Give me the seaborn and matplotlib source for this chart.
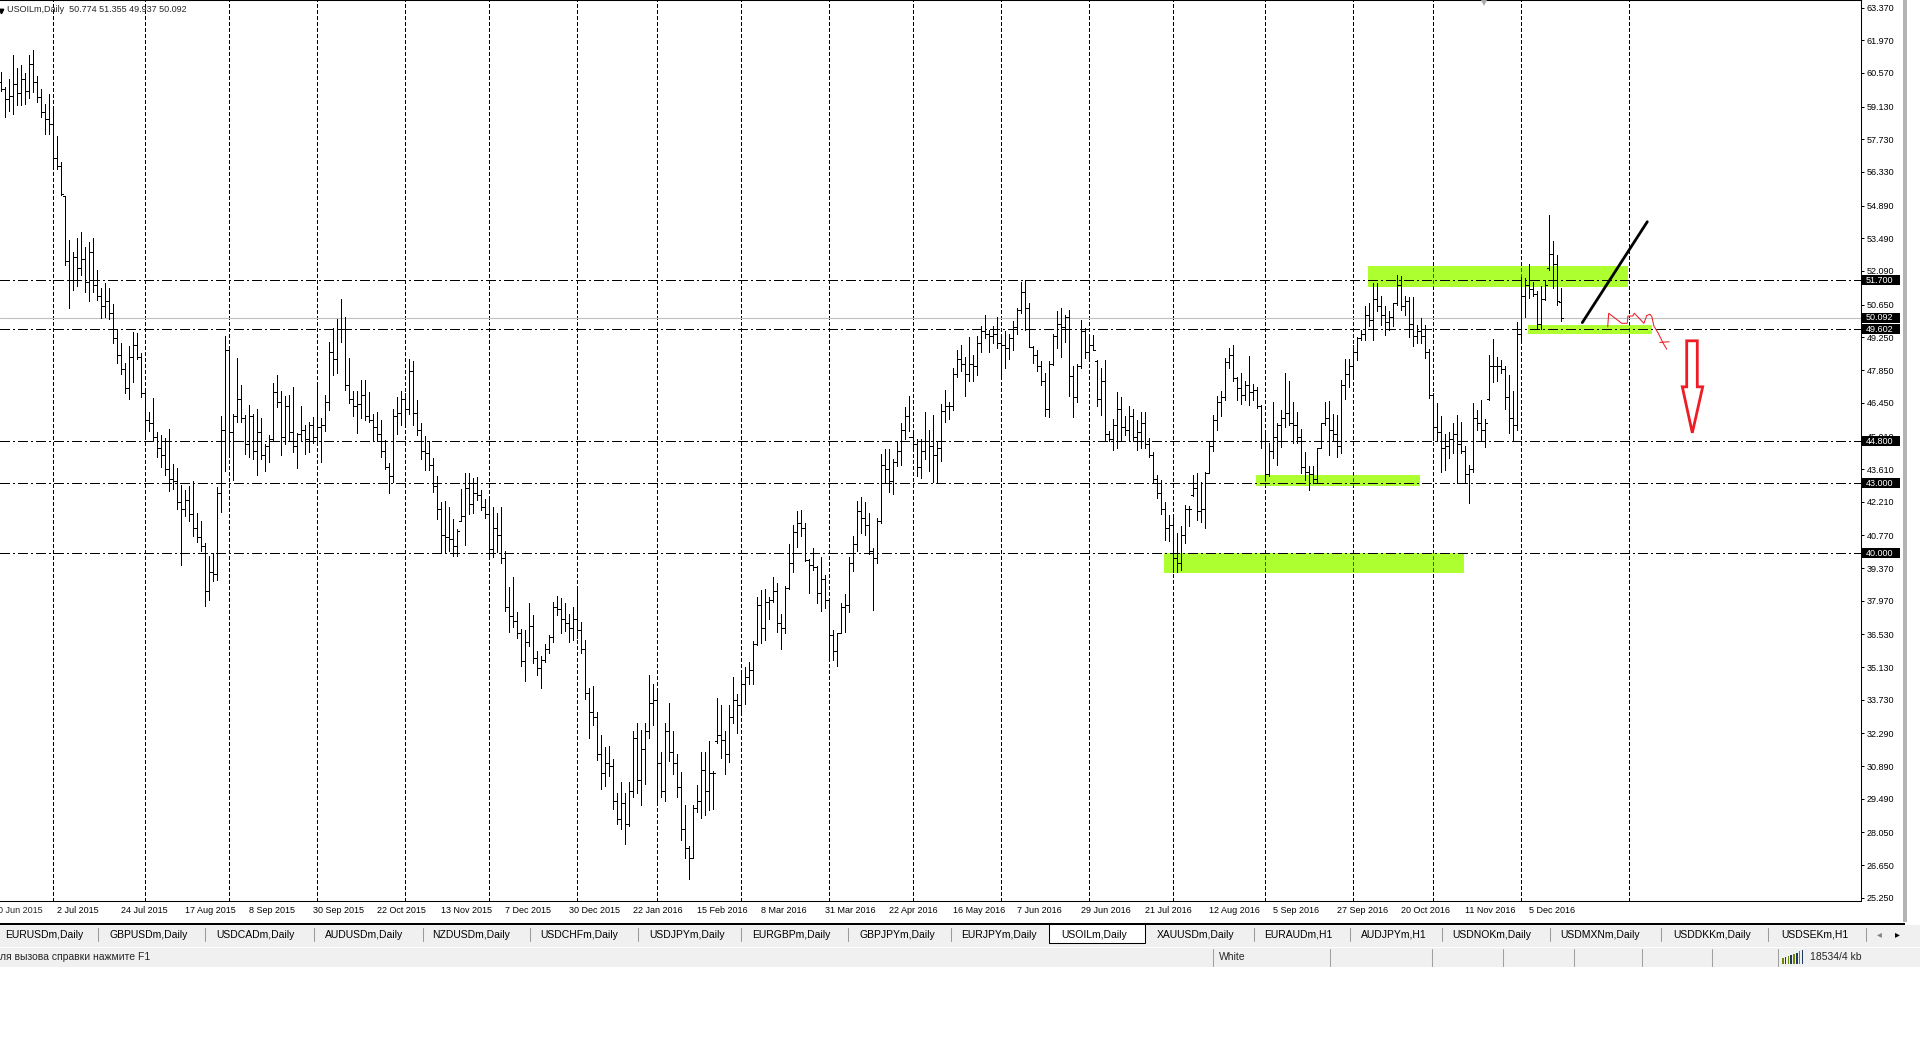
import numpy as np
import pandas as pd
import matplotlib
matplotlib.use("Agg")
import matplotlib.pyplot as plt
import matplotlib.transforms as mtransforms
from matplotlib.patches import Rectangle, Polygon
from matplotlib.lines import Line2D
import seaborn as sns

# ------------------------------------------------------------------ data
chart_title = "USOILm,Daily  50.774 51.355 49.937 50.092"
calendar_start = "2015-06-10"
calendar_end = "2016-12-15"
closed_days = ["2015-12-25", "2016-01-01", "2016-03-25", "2016-10-10"]
label_anchor = "2016-12-05"
next_month_start = "2017-01-01"

opens = [
    60.20, 59.90, 59.45, 59.60, 60.10, 59.70, 60.30, 59.80, 60.95, 60.20,
    59.55, 58.90, 58.60, 58.40, 56.95, 56.60, 55.30, 52.50, 51.70, 52.70,
    52.20, 52.60, 51.60, 52.90, 51.50, 51.00, 50.60, 50.80, 50.30, 49.20,
    48.50, 47.90, 47.10, 48.40, 48.90, 48.40, 46.85, 45.70, 45.60, 45.00,
    44.50, 44.20, 43.60, 43.20, 43.10, 42.20, 41.90, 42.30, 41.70, 41.10,
    40.70, 40.30, 38.40, 39.20, 39.10, 42.60, 45.30, 48.70, 45.20, 45.90,
    46.60, 45.80, 44.70, 45.90, 44.40, 45.20, 44.20, 44.60, 44.90, 46.90,
    46.50, 45.00, 46.30, 45.20, 44.60, 45.10, 45.30, 44.90, 45.50, 45.00,
    45.40, 45.50, 46.50, 48.60, 48.30, 49.60, 49.60, 47.20, 46.60, 46.30,
    46.40, 46.80, 45.90, 45.70, 45.40, 45.10, 44.40, 43.70, 43.30, 45.90,
    46.00, 46.60, 46.20, 47.80, 46.00, 45.30, 44.40, 44.30, 43.80, 42.90,
    41.90, 40.80, 40.70, 40.60, 40.30, 41.40, 41.60, 42.80, 42.10, 42.60,
    42.50, 42.00, 41.70, 40.20, 41.10, 40.80, 39.80, 37.70, 37.30, 37.10,
    36.60, 35.40, 36.20, 36.90, 35.50, 35.10, 35.45, 35.90, 36.40, 37.70,
    37.60, 37.20, 37.00, 36.80, 37.20, 36.70, 35.90, 34.00, 33.20, 33.00,
    31.40, 30.60, 31.00, 30.90, 29.40, 28.60, 29.30, 28.40, 29.80, 32.10,
    30.30, 31.60, 32.40, 33.60, 33.70, 31.00, 29.80, 32.40, 31.50, 31.00,
    30.00, 28.20, 27.40, 26.95, 29.10, 29.40, 30.70, 29.80, 30.60, 31.95,
    32.20, 32.00, 31.40, 33.00, 33.70, 33.50, 34.40, 34.70, 35.00, 36.10,
    37.80, 36.80, 37.90, 38.00, 38.40, 37.00, 36.80, 38.50, 39.60, 40.90,
    41.30, 41.10, 39.72, 39.50, 39.40, 38.30, 38.90, 38.00, 36.50, 35.80,
    36.59, 37.70, 37.80, 39.60, 40.40, 41.80, 41.50, 41.20, 40.10, 39.80,
    41.40, 43.80, 43.60, 43.10, 43.90, 44.40, 45.30, 45.90, 45.00, 44.70,
    43.70, 44.40, 44.80, 44.60, 44.20, 44.50, 46.10, 46.30, 46.30, 47.70,
    48.30, 48.10, 47.70, 48.10, 48.00, 49.00, 49.50, 49.40, 49.30, 49.40,
    49.00, 48.90, 48.80, 49.20, 49.70, 50.40, 51.20, 50.50, 48.85, 48.50,
    48.00, 47.40, 46.20, 48.10, 49.30, 49.80, 49.70, 50.10, 47.60, 46.70,
    48.00, 49.50, 48.60, 48.90, 48.25, 46.60, 47.40, 45.10, 44.90, 45.50,
    46.20, 45.40, 45.30, 45.90, 45.00, 45.20, 45.60, 44.70, 44.20, 43.20,
    42.60, 41.90, 41.10, 41.20, 39.80, 39.60, 40.80, 41.90, 42.50, 42.80,
    41.80, 41.90, 43.45, 44.60, 45.70, 46.50, 46.70, 48.20, 48.50, 47.50,
    47.10, 46.80, 47.20, 46.90, 47.00, 46.30, 44.80, 43.40, 44.40, 45.00,
    45.50, 45.80, 46.00, 45.60, 45.50, 45.00, 43.70, 43.50, 43.40, 43.20,
    44.50, 45.60, 45.80, 45.30, 45.10, 44.60, 47.20, 47.70, 48.00, 48.60,
    49.20, 49.40, 50.20, 50.00, 50.90, 50.60, 50.20, 49.90, 50.10, 50.70,
    51.50, 50.60, 50.80, 49.80, 49.30, 49.50, 49.30, 48.60, 46.80, 45.40,
    45.20, 44.50, 44.60, 44.90, 45.10, 44.70, 44.40, 43.40, 43.60, 45.80,
    45.60, 45.30, 46.60, 48.00, 48.00, 48.00, 47.90, 46.70, 45.80, 45.50,
    49.40, 51.00, 51.50, 51.30, 51.10, 49.80, 50.90, 52.20, 52.80, 52.40,
    50.774,
]

highs = [
    60.60, 59.98, 60.30, 61.32, 60.79, 60.90, 60.58, 61.35, 61.55, 60.42,
    59.90, 59.23, 59.66, 59.02, 57.89, 56.76, 55.31, 53.41, 52.92, 53.49,
    53.78, 53.13, 53.33, 53.49, 52.12, 51.36, 51.57, 51.36, 50.67, 49.59,
    49.02, 48.17, 48.86, 49.46, 49.43, 48.57, 46.93, 46.04, 46.64, 45.19,
    45.08, 44.95, 45.32, 43.82, 43.66, 42.93, 42.69, 42.87, 43.09, 41.72,
    41.37, 40.43, 39.89, 40.00, 42.85, 45.88, 49.30, 48.81, 45.96, 48.38,
    47.22, 45.91, 46.37, 45.96, 46.20, 45.80, 44.67, 45.08, 47.28, 47.65,
    46.96, 46.72, 46.77, 47.12, 45.16, 46.32, 45.48, 45.64, 45.83, 47.17,
    45.80, 46.80, 49.06, 49.67, 50.02, 50.88, 50.10, 48.38, 46.93, 46.96,
    47.41, 47.44, 46.90, 45.96, 46.07, 45.72, 44.87, 43.87, 46.20, 46.69,
    46.96, 46.85, 48.30, 48.22, 46.56, 45.59, 45.03, 44.79, 44.06, 43.30,
    42.21, 42.26, 41.97, 41.48, 41.03, 42.74, 43.42, 43.42, 43.22, 43.27,
    42.72, 42.34, 42.34, 41.97, 41.72, 42.00, 40.10, 38.55, 38.97, 37.50,
    36.77, 36.72, 37.89, 37.35, 35.80, 35.59, 36.10, 36.52, 37.92, 38.19,
    38.09, 37.89, 37.39, 37.72, 38.47, 37.05, 36.30, 34.25, 34.30, 33.22,
    32.22, 31.72, 31.75, 31.17, 29.72, 30.19, 29.72, 30.22, 32.39, 32.75,
    32.42, 32.72, 34.80, 34.39, 34.14, 31.47, 32.75, 33.59, 32.39, 31.39,
    30.64, 29.22, 27.47, 29.22, 30.09, 31.50, 31.47, 31.97, 30.69, 33.80,
    33.50, 32.39, 33.50, 34.69, 33.97, 34.89, 35.14, 35.34, 36.25, 38.14,
    38.42, 38.47, 38.14, 38.97, 38.72, 37.39, 38.60, 40.39, 41.22, 41.80,
    41.85, 41.30, 39.75, 40.22, 39.47, 39.85, 39.05, 38.09, 36.72, 36.59,
    37.89, 38.25, 39.85, 40.75, 42.22, 42.42, 42.19, 41.72, 40.22, 41.52,
    44.25, 44.47, 44.47, 44.05, 44.80, 45.59, 46.25, 46.75, 45.30, 44.89,
    44.89, 46.05, 45.30, 45.92, 44.80, 46.39, 47.00, 46.47, 47.92, 48.72,
    48.92, 48.40, 49.26, 48.50, 49.29, 49.74, 50.22, 49.57, 49.72, 50.12,
    49.29, 49.50, 49.40, 49.93, 50.50, 51.64, 51.69, 50.74, 48.89, 48.71,
    48.22, 47.72, 48.22, 49.40, 50.36, 50.50, 50.22, 50.43, 48.00, 48.12,
    50.00, 49.64, 49.26, 49.36, 48.29, 47.93, 48.29, 45.22, 45.74, 46.89,
    46.69, 45.86, 46.32, 46.17, 45.72, 46.07, 46.07, 44.93, 44.32, 43.36,
    43.14, 42.19, 41.64, 41.57, 40.86, 41.17, 42.07, 42.03, 43.36, 43.43,
    43.07, 43.50, 44.79, 45.93, 46.72, 46.97, 48.36, 48.79, 48.93, 47.57,
    47.72, 47.40, 48.43, 47.26, 47.14, 46.36, 45.14, 44.72, 46.50, 45.57,
    46.14, 47.72, 47.36, 46.50, 46.07, 45.32, 44.32, 43.74, 43.72, 44.50,
    45.60, 46.50, 46.54, 45.97, 45.93, 47.43, 48.32, 48.32, 48.93, 49.26,
    49.57, 50.60, 50.74, 51.57, 51.57, 51.00, 50.57, 50.36, 50.72, 51.93,
    51.86, 51.00, 50.97, 50.97, 49.79, 50.07, 49.79, 48.74, 46.86, 46.43,
    45.90, 45.10, 45.20, 45.60, 45.93, 45.64, 44.60, 43.79, 46.43, 46.14,
    46.57, 45.74, 48.50, 49.17, 48.40, 48.26, 48.03, 47.64, 46.93, 49.89,
    51.83, 51.79, 52.40, 51.60, 51.22, 51.43, 51.69, 54.50, 53.36, 52.79,
    51.355,
]

lows = [
    59.82, 58.69, 58.94, 58.82, 59.18, 59.18, 59.26, 59.50, 59.77, 59.34,
    58.69, 57.97, 57.97, 56.60, 56.47, 55.34, 52.33, 50.51, 51.28, 51.44,
    51.92, 51.20, 50.80, 51.20, 50.83, 50.07, 50.12, 50.04, 49.02, 48.14,
    47.69, 46.88, 46.61, 47.33, 48.30, 46.69, 45.03, 45.24, 44.79, 44.11,
    43.71, 43.34, 42.66, 42.74, 41.89, 39.52, 41.61, 41.37, 40.76, 40.48,
    40.08, 37.74, 38.02, 38.82, 38.87, 41.77, 43.54, 44.19, 43.14, 45.64,
    45.64, 44.27, 44.14, 44.03, 43.34, 44.03, 43.54, 43.90, 44.83, 46.28,
    44.19, 44.67, 44.83, 44.35, 43.66, 44.83, 44.27, 44.35, 44.71, 44.79,
    43.92, 45.24, 46.12, 47.65, 47.73, 49.07, 47.01, 46.44, 45.88, 45.16,
    45.80, 45.72, 45.64, 44.79, 44.79, 44.14, 43.63, 42.58, 43.06, 45.12,
    45.48, 45.48, 45.96, 45.51, 45.08, 44.03, 43.58, 43.55, 42.61, 41.48,
    40.00, 40.00, 40.08, 39.89, 39.87, 41.37, 40.35, 41.69, 41.72, 42.27,
    41.85, 41.52, 39.85, 39.85, 40.05, 39.59, 37.52, 36.64, 36.84, 36.39,
    35.17, 34.52, 36.05, 35.30, 34.77, 34.25, 35.34, 35.72, 36.22, 37.35,
    36.59, 36.67, 36.22, 36.30, 36.39, 35.72, 33.75, 32.09, 32.64, 31.14,
    29.92, 30.05, 30.47, 29.05, 28.39, 28.19, 27.55, 28.30, 29.55, 29.72,
    29.22, 30.14, 32.09, 32.64, 29.39, 29.55, 29.39, 31.09, 30.55, 29.55,
    27.72, 26.97, 26.05, 26.94, 28.94, 28.67, 28.80, 29.02, 29.05, 31.89,
    31.25, 30.55, 31.05, 32.72, 32.30, 33.25, 33.55, 34.39, 34.39, 36.09,
    36.14, 36.30, 37.17, 37.92, 36.64, 35.92, 36.59, 38.47, 39.22, 40.25,
    40.72, 39.69, 38.30, 39.30, 37.89, 37.55, 37.64, 35.47, 35.42, 35.19,
    36.59, 36.64, 37.47, 39.25, 40.10, 40.85, 40.80, 39.97, 37.59, 39.59,
    41.30, 43.02, 42.64, 42.55, 43.75, 43.80, 44.89, 45.22, 44.55, 43.30,
    43.22, 44.05, 43.52, 43.05, 43.05, 43.97, 45.64, 45.75, 46.14, 47.55,
    47.80, 46.72, 47.36, 47.36, 47.64, 48.60, 49.22, 48.64, 49.00, 48.79,
    47.64, 47.93, 48.32, 48.71, 49.40, 50.29, 49.57, 48.83, 48.14, 47.79,
    47.22, 45.86, 45.83, 48.07, 48.79, 48.40, 49.07, 46.72, 45.83, 46.50,
    47.93, 48.36, 48.36, 48.69, 46.29, 45.93, 44.79, 44.79, 44.43, 44.50,
    44.86, 45.07, 44.79, 44.79, 44.43, 44.50, 44.50, 44.14, 43.00, 42.36,
    41.69, 40.57, 40.54, 39.22, 39.22, 39.29, 40.43, 41.17, 42.46, 41.43,
    41.36, 41.07, 43.43, 44.36, 45.29, 45.86, 46.57, 47.93, 47.36, 46.57,
    46.40, 46.57, 46.36, 46.57, 46.22, 44.50, 43.12, 43.29, 44.07, 43.79,
    44.57, 45.43, 45.50, 44.74, 44.74, 43.43, 43.15, 42.69, 43.03, 43.03,
    44.50, 45.50, 44.22, 44.79, 44.14, 44.29, 46.60, 47.12, 47.64, 48.29,
    49.14, 49.14, 49.72, 49.12, 50.36, 49.79, 49.36, 49.57, 49.74, 50.64,
    50.43, 50.22, 49.26, 48.86, 49.00, 49.00, 48.36, 46.64, 44.86, 44.79,
    43.50, 43.57, 44.07, 44.29, 43.00, 44.29, 43.00, 42.17, 43.50, 45.29,
    44.86, 44.57, 46.55, 47.32, 47.36, 47.74, 46.17, 45.14, 44.83, 45.26,
    49.00, 50.14, 50.93, 51.00, 49.64, 49.60, 50.86, 52.14, 51.36, 50.64,
    49.937,
]

closes = [
    59.90, 59.45, 59.60, 60.10, 59.70, 60.30, 59.80, 60.95, 60.20, 59.55,
    58.90, 58.60, 58.40, 56.95, 56.60, 55.40, 52.50, 51.70, 52.70, 52.20,
    52.60, 51.60, 52.90, 51.50, 51.00, 50.60, 50.80, 50.30, 49.20, 48.50,
    47.90, 47.10, 48.40, 48.90, 48.40, 46.85, 45.70, 45.60, 45.00, 44.50,
    44.20, 43.60, 43.20, 43.10, 42.20, 41.90, 42.30, 41.70, 41.10, 40.70,
    40.30, 38.40, 39.20, 39.10, 42.60, 45.30, 48.70, 45.20, 45.90, 46.60,
    45.80, 44.70, 45.90, 44.40, 45.20, 44.20, 44.60, 44.90, 46.90, 46.50,
    45.00, 46.30, 45.20, 44.60, 45.10, 45.30, 44.90, 45.50, 45.00, 45.40,
    45.50, 46.50, 48.60, 48.30, 49.60, 49.60, 47.20, 46.60, 46.30, 46.40,
    46.80, 45.90, 45.70, 45.40, 45.10, 44.40, 43.70, 43.30, 45.90, 46.00,
    46.60, 46.20, 47.80, 46.00, 45.30, 44.40, 44.30, 43.80, 42.90, 41.90,
    40.80, 40.70, 40.60, 40.30, 40.95, 41.60, 42.80, 42.10, 42.60, 42.50,
    42.00, 41.70, 40.20, 41.10, 40.80, 39.80, 37.70, 37.30, 37.10, 36.60,
    35.40, 36.20, 36.90, 35.50, 35.10, 35.45, 35.90, 36.40, 37.70, 37.60,
    37.20, 37.00, 36.80, 37.20, 36.70, 35.90, 34.00, 33.20, 33.00, 31.40,
    30.60, 31.00, 30.90, 29.40, 28.60, 29.30, 28.40, 29.80, 32.10, 30.30,
    31.60, 32.40, 33.60, 33.70, 31.00, 29.80, 32.40, 31.50, 31.00, 30.00,
    28.20, 27.40, 26.95, 29.10, 29.40, 30.70, 29.80, 30.60, 30.60, 32.20,
    32.00, 31.40, 33.00, 33.70, 33.50, 34.40, 34.70, 35.00, 36.10, 37.80,
    36.80, 37.90, 38.00, 38.40, 37.00, 36.80, 38.50, 39.60, 40.90, 41.30,
    41.10, 39.72, 39.50, 39.40, 38.30, 38.90, 38.00, 36.50, 35.80, 36.59,
    37.70, 37.80, 39.60, 40.40, 41.80, 41.50, 41.20, 40.10, 39.80, 41.40,
    43.80, 43.60, 43.10, 43.90, 44.40, 45.30, 45.90, 45.00, 44.70, 43.70,
    44.40, 44.80, 44.60, 44.20, 44.50, 46.10, 46.30, 46.30, 47.70, 48.30,
    48.10, 47.70, 48.10, 48.00, 49.00, 49.50, 49.40, 49.30, 49.40, 49.00,
    48.90, 48.80, 49.20, 49.70, 50.40, 51.20, 50.50, 48.85, 48.50, 48.00,
    47.40, 46.20, 48.10, 49.30, 49.80, 49.70, 50.10, 47.60, 46.70, 48.00,
    49.50, 48.60, 48.90, 48.70, 46.60, 47.40, 45.10, 44.90, 45.50, 46.20,
    45.40, 45.30, 45.90, 45.00, 45.20, 45.60, 44.70, 44.20, 43.20, 42.60,
    41.90, 41.10, 41.20, 39.80, 39.60, 40.80, 41.90, 41.90, 42.80, 41.80,
    41.90, 43.45, 44.60, 45.70, 46.50, 46.70, 48.20, 48.50, 47.50, 47.10,
    46.80, 47.20, 46.90, 47.00, 46.30, 44.80, 43.40, 44.40, 45.00, 45.50,
    45.80, 46.00, 45.60, 45.50, 45.00, 43.70, 43.50, 43.40, 43.20, 44.50,
    45.60, 45.80, 45.30, 45.10, 44.60, 47.20, 47.70, 48.00, 48.60, 49.20,
    49.40, 50.20, 50.00, 50.90, 50.60, 50.20, 49.90, 50.10, 50.70, 51.50,
    50.60, 50.80, 49.80, 49.30, 49.50, 49.30, 48.60, 46.80, 45.40, 45.20,
    44.50, 44.60, 44.90, 45.10, 44.70, 44.40, 43.40, 43.60, 45.80, 45.60,
    45.30, 45.60, 48.00, 48.00, 48.00, 47.90, 46.70, 45.80, 45.50, 49.40,
    51.00, 51.50, 51.30, 51.10, 49.80, 50.90, 51.50, 52.80, 52.40, 50.80,
    50.092,
]

price_levels = [51.700, 49.602, 44.800, 43.000, 40.000]
bid_price = 50.092
price_ticks = [63.370, 61.970, 60.570, 59.130, 57.730, 56.330, 54.890, 53.490,
               52.090, 50.650, 49.250, 47.850, 46.450, 45.010, 43.610, 42.210,
               40.770, 39.370, 37.970, 36.530, 35.130, 33.730, 32.290, 30.890,
               29.490, 28.050, 26.650, 25.250]

# highlighted zones (bar position, price)
zone_start = [341.8, 381.8, 313.8, 290.8]
zone_end = [406.9, 412.75, 354.8, 365.8]
zone_low = [51.40, 49.38, 42.88, 39.17]
zone_high = [52.30, 49.79, 43.35, 40.00]

# hand-drawn annotations (bar position, price)
trend_x = [395.4, 411.65]
trend_y = [49.88, 54.20]
scribble_x = [401.75, 402.0, 405.25, 406.65, 406.8, 408.0, 408.4, 409.65,
              410.8, 411.5, 412.3, 412.8, 413.3, 414.4, 415.65, 416.5]
scribble_y = [49.70, 50.28, 49.85, 49.85, 50.16, 50.16, 50.28, 50.06,
              49.85, 50.18, 50.24, 50.13, 49.73, 49.42, 48.99, 48.74]
cross_x = [414.8, 417.1]
cross_y = [49.03, 49.06]
arrow_x = [421.5, 424.15, 424.15, 425.5, 422.9, 420.4, 421.5]
arrow_y = [49.10, 49.10, 47.13, 47.13, 45.16, 47.13, 47.13]

tab_names = ["EURUSDm,Daily", "GBPUSDm,Daily", "USDCADm,Daily", "AUDUSDm,Daily",
             "NZDUSDm,Daily", "USDCHFm,Daily", "USDJPYm,Daily", "EURGBPm,Daily",
             "GBPJPYm,Daily", "EURJPYm,Daily", "USOILm,Daily", "XAUUSDm,Daily",
             "EURAUDm,H1", "AUDJPYm,H1", "USDNOKm,Daily", "USDMXNm,Daily",
             "USDDKKm,Daily", "USDSEKm,H1"]
status_help = "ля вызова справки нажмите F1"
status_profile = "White"
status_traffic = "18534/4 kb"

# ------------------------------------------------------------------ style
sns.set_style("white")
plt.rcParams["font.family"] = ["Liberation Sans", "DejaVu Sans"]
plt.rcParams["lines.scale_dashes"] = False

W, H = 1920, 1040
PLOT_RIGHT, PLOT_BOTTOM = 1861, 901
BAR_PX, BAR0_PX = 4.0, 0.7
Y_MIN, Y_MAX = 25.109, 63.696
PX_PER_PRICE = PLOT_BOTTOM / (Y_MAX - Y_MIN)
RED = "#EE1C25"
GREEN = "#ADFF2F"
BAR_LW = 0.6

fig = plt.figure(figsize=(W / 100, H / 100), dpi=100, facecolor="white")
ax = fig.add_axes([0, 1 - PLOT_BOTTOM / H, PLOT_RIGHT / W, PLOT_BOTTOM / H])
ax.set_facecolor("white")

k = np.arange(len(highs))
x_lo = -BAR0_PX / BAR_PX
x_hi = (PLOT_RIGHT - BAR0_PX) / BAR_PX

# calendar (weekday bars without the broker's closed days)
cal = pd.bdate_range(calendar_start, calendar_end)
cal = cal[~cal.isin(pd.to_datetime(closed_days))]
cal_k = np.arange(len(cal)) - (len(cal) - len(highs))

grid_k = [cal_k[j] for j in range(1, len(cal)) if cal[j].month != cal[j - 1].month]
grid_k.append(cal_k[-1] + (pd.Timestamp(next_month_start) - cal[-1]).days)

anchor_k = cal_k[cal.get_loc(pd.Timestamp(label_anchor))]
lab_k = list(range(anchor_k, cal_k[0] - 1, -16))[::-1]
lab_txt = []
for kk in lab_k:
    d = cal[kk - cal_k[0]]
    lab_txt.append(f"{d.day} {d.strftime('%b %Y')}")

# vertical grid (month starts)
grid_style = (0, (2.2, 1.45))
ax.vlines(grid_k, Y_MIN, Y_MAX, colors="black", linewidth=0.72,
          linestyles=[grid_style], zorder=1, antialiased=False)

# zones
for x0, x1, lo, hi in zip(zone_start, zone_end, zone_low, zone_high):
    r = Rectangle((x0, lo), x1 - x0, hi - lo, facecolor=GREEN,
                  edgecolor="none", zorder=1.5)
    ax.add_patch(r)
    lc = ax.vlines(grid_k, Y_MIN, Y_MAX, colors="#5A28FF", linewidth=0.72,
                   linestyles=[grid_style], zorder=1.6, antialiased=False)
    lc.set_clip_path(r)

# bid line and horizontal levels
ax.axhline(bid_price, color="#C0C0C0", linewidth=0.8, zorder=1.7)
for v in price_levels:
    ax.axhline(v, color="black", linewidth=0.72,
               linestyle=(0, (6.5, 2.2, 1.4, 2.2)), zorder=2.2, antialiased=False)

# OHLC bars
ax.vlines(k, lows, highs, colors="black", linewidth=BAR_LW, zorder=3, antialiased=False)
ax.hlines(opens, k - 0.5, k, colors="black", linewidth=BAR_LW, zorder=3, antialiased=False)
ax.hlines(closes, k, k + 0.5, colors="black", linewidth=BAR_LW, zorder=3, antialiased=False)

# hand drawn objects
sns.lineplot(x=trend_x, y=trend_y, ax=ax, color="black", linewidth=2.0,
             sort=False, estimator=None, zorder=4)
sns.lineplot(x=scribble_x, y=scribble_y, ax=ax, color=RED, linewidth=0.75,
             sort=False, estimator=None, zorder=4)
sns.lineplot(x=cross_x, y=cross_y, ax=ax, color=RED, linewidth=0.75,
             sort=False, estimator=None, zorder=4)
ax.add_patch(Polygon(np.column_stack([arrow_x, arrow_y]), closed=True, fill=False,
                     edgecolor=RED, linewidth=2.0, joinstyle="miter", zorder=4))

ax.set_xlim(x_lo, x_hi)
ax.set_ylim(Y_MIN, Y_MAX)
ax.set_xlabel("")
ax.set_ylabel("")
if ax.get_legend() is not None:
    ax.get_legend().remove()

# price axis
ax.yaxis.tick_right()
ax.set_yticks(price_ticks)
ax.set_yticklabels([f"{v:.3f}" for v in price_ticks])
ax.tick_params(axis="y", direction="out", length=2.2, width=0.72, pad=1.9,
               labelsize=6.5, colors="black", right=True, left=False)

# date axis
vis = [(kk, t) for kk, t in zip(lab_k, lab_txt) if kk >= x_lo]
hid = [(kk, t) for kk, t in zip(lab_k, lab_txt) if kk < x_lo]
ax.set_xticks([kk for kk, _ in vis])
ax.set_xticklabels([t for _, t in vis], ha="left")
ax.tick_params(axis="x", length=0, pad=3.4, labelsize=6.5, colors="black")
trans_lab = mtransforms.offset_copy(ax.get_xaxis_transform(), fig=fig, y=-3.4, units="points")
for kk, t in hid:
    ax.text(kk, 0, t, transform=trans_lab, ha="left", va="top", fontsize=6.5, clip_on=False)

ax.spines["left"].set_visible(False)
ax.spines["right"].set_linewidth(0.75)
ax.spines["bottom"].set_linewidth(0.75)
ax.spines["top"].set_linewidth(1.5)
for s in ax.spines.values():
    s.set_color("black")

# price boxes on the axis
ytr = ax.get_yaxis_transform()
box_h = 10 / PX_PER_PRICE
for v in price_levels + [bid_price]:
    ax.add_patch(Rectangle((1862.5 / PLOT_RIGHT, v - box_h / 2), 37.5 / PLOT_RIGHT, box_h,
                           transform=ytr, facecolor="black", edgecolor="none",
                           clip_on=False, zorder=6))
    ax.text(1866 / PLOT_RIGHT, v, f"{v:.3f}", transform=ytr, color="white",
            fontsize=6.5, va="center", ha="left", clip_on=False, zorder=7)

# ------------------------------------------------------------------ window chrome
def fig_rect(x0, y0, x1, y1, **kw):
    fig.add_artist(Rectangle((x0 / W, 1 - y1 / H), (x1 - x0) / W, (y1 - y0) / H,
                             transform=fig.transFigure, **kw))

def fig_line(x0, y0, x1, y1, **kw):
    fig.add_artist(Line2D([x0 / W, x1 / W], [1 - y0 / H, 1 - y1 / H],
                          transform=fig.transFigure, **kw))

def fig_text(x, y, s, **kw):
    fig.text(x / W, 1 - y / H, s, **kw)

fig_text(7, 9, chart_title, fontsize=6.5, va="center", ha="left")
fig.add_artist(Line2D([1.2 / W], [1 - 10.5 / H], marker="v", markersize=3.2,
                      color="black", transform=fig.transFigure))
# chart-shift marker
fig.add_artist(Line2D([1484 / W], [1 - 3 / H], marker="v", markersize=5,
                      color="#A8A8A8", markeredgewidth=0, transform=fig.transFigure))

# scrollbar strip
fig_rect(1902.5, 0, 1907, 922, facecolor="#B4B4B4", edgecolor="none")

# tab bar
fig_rect(0, 925, W, 947, facecolor="#F0F0F0", edgecolor="none")
fig_rect(0, 923, 1905, 925, facecolor="black", edgecolor="none")
tab_x = [5, 110, 216, 324.5, 432, 540, 649, 752, 859, 961, 1061, 1157,
         1264, 1361, 1452, 1560, 1673, 1781]
sep_x = [98, 205, 313.5, 422.5, 530, 638, 741, 848, 951, 1254, 1350, 1442,
         1550, 1661, 1768, 1866]
fig_rect(1049, 924, 1145, 943, facecolor="white", edgecolor="black", linewidth=0.75)
for name, x in zip(tab_names, tab_x):
    fig_text(x, 934.5, name, fontsize=7.5, va="center", ha="left", color="black")
for x in sep_x:
    fig_line(x, 928, x, 941, color="#9A9A9A", linewidth=0.75)
fig_text(1877, 934, "◂", fontsize=7, va="center", ha="left", color="#808080",
         family=["DejaVu Sans"])
fig_text(1895, 934, "▸", fontsize=7, va="center", ha="left", color="black",
         family=["DejaVu Sans"])

# status bar
fig_rect(0, 948, W, 967, facecolor="#F0F0F0", edgecolor="none")
for x in [1213, 1330, 1431.5, 1503, 1574, 1641.5, 1712, 1777.5]:
    fig_line(x, 949, x, 966, color="#A0A0A0", linewidth=0.75)
fig_text(0, 957.5, status_help, fontsize=7.5, va="center", ha="left")
fig_text(1219, 957.5, status_profile, fontsize=7.5, va="center", ha="left")
fig_text(1810, 957.5, status_traffic, fontsize=7.5, va="center", ha="left")
for j in range(8):
    x = 1782 + 2.8 * j
    h = 6 + j * 1.1
    fig_rect(x, 964 - h, x + 1.6, 964,
             facecolor=["#6E8B00", "#1F3A60"][j % 2], edgecolor="none")

fig.savefig("out.png", dpi=100, facecolor="white")
